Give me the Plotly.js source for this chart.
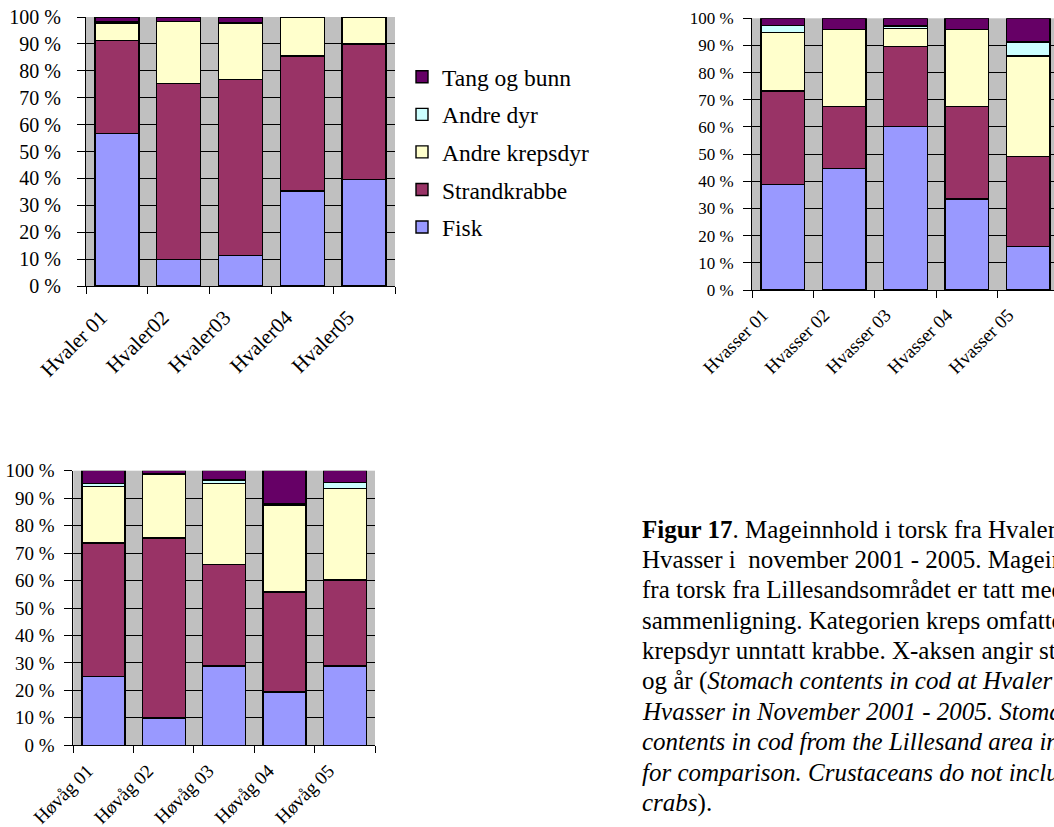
<!DOCTYPE html>
<html>
<head>
<meta charset="utf-8">
<script src="https://cdn.plot.ly/plotly-3.0.1.min.js"></script>
<style>
html, body { margin: 0; padding: 0; overflow: hidden; background: #fff; }
#chart { width: 1200px; height: 827px; }
</style>
</head>
<body>
<div id="chart"></div>
<script>
// ---------- data ----------
const seriesNames = ['Fisk', 'Strandkrabbe', 'Andre krepsdyr', 'Andre dyr', 'Tang og bunn'];
const seriesColors = ['#9999FF', '#993366', '#FFFFCC', '#CCFFFF', '#660066'];

const catsHvaler = ['Hvaler 01', 'Hvaler02', 'Hvaler03', 'Hvaler04', 'Hvaler05'];
const fiskHvaler   = [56.8, 9.9, 11.3, 35.3, 39.6];
const strandHvaler = [34.4, 65.4, 65.5, 50.2, 50.4];
const krepsHvaler  = [6.6, 23.0, 21.0, 14.5, 10.0];
const dyrHvaler    = [0.3, 0, 0, 0, 0];
const tangHvaler   = [1.9, 1.7, 2.2, 0, 0];

const catsHvasser = ['Hvasser 01', 'Hvasser 02', 'Hvasser 03', 'Hvasser 04', 'Hvasser 05'];
const fiskHvasser   = [38.9, 44.8, 60.1, 33.5, 16.0];
const strandHvasser = [34.4, 22.7, 29.5, 34.0, 33.1];
const krepsHvasser  = [21.4, 28.3, 6.7, 28.3, 37.0];
const dyrHvasser    = [2.6, 0, 0.8, 0, 5.2];
const tangHvasser   = [2.7, 4.2, 2.9, 4.2, 8.7];

const catsHovag = ['Høvåg 01', 'Høvåg 02', 'Høvåg 03', 'Høvåg 04', 'Høvåg 05'];
const fiskHovag   = [25.0, 10.0, 28.9, 19.4, 28.9];
const strandHovag = [48.7, 65.5, 37.0, 36.5, 31.3];
const krepsHovag  = [20.6, 23.3, 29.5, 31.6, 33.4];
const dyrHovag    = [1.1, 0, 1.2, 0.6, 2.0];
const tangHovag   = [4.6, 1.2, 3.4, 11.9, 4.4];

const yTickVals = [0, 10, 20, 30, 40, 50, 60, 70, 80, 90, 100];
const yTickText = ['0 %', '10 %', '20 %', '30 %', '40 %', '50 %', '60 %', '70 %', '80 %', '90 %', '100 %'];

const captionLines = [
  '<b>Figur 17</b>. Mageinnhold i torsk fra Hvaler og',
  'Hvasser i  november 2001 - 2005. Mageinnhold',
  'fra torsk fra Lillesandsområdet er tatt med for',
  'sammenligning. Kategorien kreps omfatter alle',
  'krepsdyr unntatt krabbe. X-aksen angir stasjon',
  'og år (<i>Stomach contents in cod at Hvaler and</i>',
  '<i>Hvasser in November 2001 - 2005. Stomach</i>',
  '<i>contents in cod from the Lillesand area included</i>',
  '<i>for comparison. Crustaceans do not include</i>',
  '<i>crabs</i>).'
];

// ---------- layout helpers ----------
const W = 1200, H = 827;
const FONT = 'Liberation Serif, Times New Roman, serif';
const px = v => v / W;
const py = v => 1 - v / H;

const charts = [
  { cats: catsHvaler, vals: [fiskHvaler, strandHvaler, krepsHvaler, dyrHvaler, tangHvaler], xa: 'x', ya: 'y', legend: true },
  { cats: catsHvasser, vals: [fiskHvasser, strandHvasser, krepsHvasser, dyrHvasser, tangHvasser], xa: 'x2', ya: 'y2', legend: false },
  { cats: catsHovag, vals: [fiskHovag, strandHovag, krepsHovag, dyrHovag, tangHovag], xa: 'x3', ya: 'y3', legend: false }
];

const traces = [];
charts.forEach(c => {
  seriesNames.forEach((name, i) => {
    traces.push({
      type: 'bar',
      name: name,
      legendgroup: name,
      legendrank: 5 - i,
      showlegend: c.legend,
      x: c.cats,
      y: c.vals[i],
      xaxis: c.xa,
      yaxis: c.ya,
      marker: { color: seriesColors[i], line: { color: '#000', width: 1.4 } },
      hoverinfo: 'x+y+name'
    });
  });
});

function xAxis(domain, anchor, size, shift, standoff) {
  return {
    domain: domain, anchor: anchor, type: 'category',
    tickson: 'boundaries', ticks: 'outside', ticklen: 7, tickcolor: '#000', tickwidth: 1,
    showline: true, linecolor: '#000', linewidth: 1, showgrid: false,
    tickangle: -45, tickfont: { family: FONT, size: size, color: '#000' },
    ticklabelshift: shift, ticklabelstandoff: standoff,
    fixedrange: true
  };
}
function yAxis(domain, anchor, size, standoff) {
  return {
    domain: domain, anchor: anchor, range: [0, 100],
    tickmode: 'array', tickvals: yTickVals, ticktext: yTickText,
    ticks: 'outside', ticklen: 8, tickcolor: '#000', tickwidth: 1,
    showline: true, linecolor: '#000', linewidth: 1,
    showgrid: true, gridcolor: '#000', gridwidth: 1, zeroline: false,
    tickfont: { family: FONT, size: size, color: '#000' },
    ticklabelstandoff: standoff,
    fixedrange: true
  };
}

const annotations = captionLines.map((t, i) => ({
  text: t, xref: 'paper', yref: 'paper',
  x: px(640), y: py(529 + i * 30.4),
  xanchor: 'left', yanchor: 'middle', showarrow: false, align: 'left',
  font: { family: FONT, size: 25, color: '#000' }
}));

const layout = {
  width: W, height: H,
  margin: { l: 0, r: 0, t: 0, b: 0 },
  paper_bgcolor: '#fff',
  plot_bgcolor: '#C0C0C0',
  barmode: 'stack',
  barnorm: 'percent',
  bargap: 0.29,
  font: { family: FONT, color: '#000' },
  xaxis: xAxis([px(86), px(395)], 'y', 21, -16, 10),
  yaxis: yAxis([py(286), py(17)], 'x', 20, 12),
  xaxis2: xAxis([px(752), px(1059)], 'y2', 18.5, -20, 6),
  yaxis2: yAxis([py(290), py(18.3)], 'x2', 17, 6),
  xaxis3: xAxis([px(73.3), px(375)], 'y3', 19, -16, 6),
  yaxis3: yAxis([py(745.3), py(470.7)], 'x3', 19, 6),
  legend: {
    x: px(402), y: py(55), xanchor: 'left', yanchor: 'top',
    orientation: 'v', traceorder: 'grouped', tracegroupgap: 4,
    font: { family: FONT, size: 23.5, color: '#000' },
    bgcolor: 'rgba(0,0,0,0)'
  },
  annotations: annotations
};

Plotly.newPlot('chart', traces, layout, { displayModeBar: false, staticPlot: true });
</script>
</body>
</html>
